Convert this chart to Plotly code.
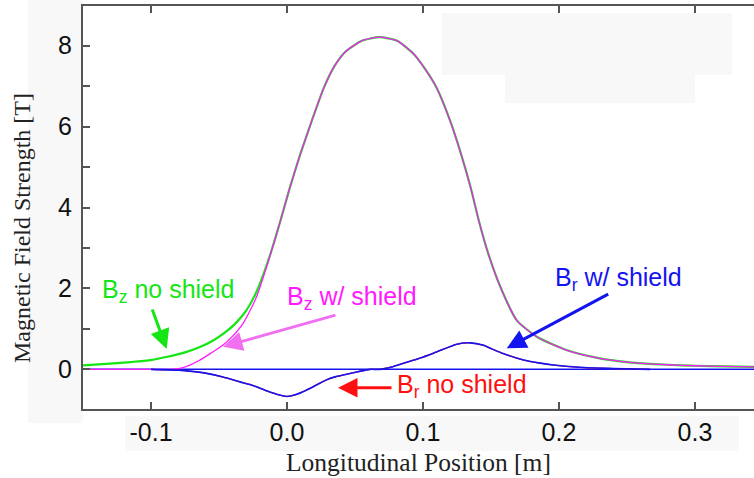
import plotly.graph_objects as go

# Longitudinal field B_z without shield
bz_free_x = [-0.150, -0.130, -0.115, -0.100, -0.088, -0.075, -0.064, -0.054, -0.046, -0.038,
             -0.030, -0.022, -0.0125, -0.005, 0.002, 0.0096, 0.018, 0.027, 0.035, 0.043,
             0.055, 0.068, 0.081, 0.093, 0.101, 0.110, 0.120, 0.128, 0.135, 0.141,
             0.148, 0.157, 0.169, 0.184, 0.206, 0.230, 0.250, 0.270, 0.290, 0.310, 0.3434]
bz_free_y = [0.10, 0.14, 0.18, 0.23, 0.31, 0.42, 0.55, 0.72, 0.90, 1.13,
             1.45, 1.95, 2.82, 3.65, 4.48, 5.30, 6.12, 6.95, 7.50, 7.85,
             8.12, 8.21, 8.12, 7.80, 7.45, 6.96, 6.14, 5.32, 4.50, 3.68,
             2.86, 2.03, 1.21, 0.80, 0.47, 0.27, 0.18, 0.13, 0.10, 0.08, 0.06]

# Longitudinal field B_z with shield
bz_shield_x = [-0.150, -0.120, -0.100, -0.085, -0.078, -0.071, -0.064, -0.056, -0.047, -0.040,
               -0.032, -0.0223, -0.0125, -0.005, 0.002, 0.0096, 0.018, 0.027, 0.035, 0.043,
               0.055, 0.068, 0.081, 0.093, 0.101, 0.110, 0.120, 0.128, 0.135, 0.141,
               0.148, 0.157, 0.169, 0.184, 0.206, 0.230, 0.250, 0.270, 0.290, 0.310, 0.3434]
bz_shield_y = [0.0, 0.0, 0.0, 0.0, 0.03, 0.11, 0.23, 0.40, 0.60, 0.82,
               1.15, 1.80, 2.80, 3.65, 4.48, 5.30, 6.12, 6.95, 7.50, 7.85,
               8.12, 8.21, 8.12, 7.80, 7.45, 6.96, 6.14, 5.32, 4.50, 3.68,
               2.86, 2.03, 1.21, 0.80, 0.47, 0.27, 0.18, 0.13, 0.10, 0.08, 0.06]

# Radial field B_r (both cases nearly coincide)
br_x = [-0.100, -0.080, -0.070, -0.059, -0.047, -0.0346, -0.025, -0.015, -0.006, 0.000,
        0.006, 0.0145, 0.022, 0.029, 0.036, 0.044, 0.052, 0.061, 0.068, 0.077,
        0.0856, 0.098, 0.110, 0.1248, 0.1346, 0.144, 0.151, 0.159, 0.174, 0.185,
        0.196, 0.215, 0.240, 0.267]
br_free_y = [0.0, -0.02, -0.05, -0.10, -0.19, -0.31, -0.40, -0.53, -0.63, -0.67,
             -0.63, -0.51, -0.38, -0.26, -0.18, -0.12, -0.06, 0.0, 0.0, 0.06,
             0.15, 0.28, 0.43, 0.62, 0.655, 0.60, 0.50, 0.39, 0.23, 0.16,
             0.106, 0.05, 0.02, 0.0]
br_shield_y = list(br_free_y)

x_tick_vals = [-0.1, 0.0, 0.1, 0.2, 0.3]
x_tick_text = ["-0.1", "0.0", "0.1", "0.2", "0.3"]
y_tick_vals = [0, 2, 4, 6, 8]
y_tick_text = ["0", "2", "4", "6", "8"]

GREEN = "#14e614"
MAGENTA = "#ff1aff"
BLUE = "#1414f0"
RED = "#ff1010"

W, H = 754, 478
ML, MR, MT, MB = 83, 0, 6, 69
PW, PH = W - ML - MR, H - MT - MB


def px(xp):
    return (xp - ML) / PW


def py(yp):
    return (H - MB - yp) / PH


fig = go.Figure()
fig.add_trace(go.Scatter(x=bz_free_x, y=bz_free_y, mode="lines",
                         line=dict(color=GREEN, width=2.2, shape="spline", smoothing=0.6),
                         name="Bz no shield"))
fig.add_trace(go.Scatter(x=bz_shield_x, y=bz_shield_y, mode="lines",
                         line=dict(color=MAGENTA, width=1.3, shape="spline", smoothing=0.6),
                         name="Bz w/ shield"))
fig.add_trace(go.Scatter(x=br_x, y=br_free_y, mode="lines",
                         line=dict(color=RED, width=1.3, shape="spline", smoothing=0.6),
                         name="Br no shield"))
fig.add_trace(go.Scatter(x=br_x, y=br_shield_y, mode="lines",
                         line=dict(color=BLUE, width=1.6, shape="spline", smoothing=0.6),
                         name="Br w/ shield"))

axis_col = "#555555"
tick_font = dict(family="Liberation Sans, Arial, sans-serif", size=25, color="#111111")

fig.update_xaxes(range=[-0.15, 0.3434], tickvals=x_tick_vals, ticktext=x_tick_text,
                 ticks="inside", ticklen=7, tickwidth=1.5, tickcolor=axis_col,
                 showline=True, linecolor=axis_col, linewidth=2, mirror="ticks",
                 showgrid=False, zeroline=False, tickfont=tick_font, ticklabelstandoff=0)
fig.update_yaxes(range=[-0.98, 8.98], tickvals=y_tick_vals, ticktext=y_tick_text,
                 ticks="inside", ticklen=7, tickwidth=1.5, tickcolor=axis_col,
                 minor=dict(tickvals=[-1, 1, 3, 5, 7], ticks="inside", ticklen=7,
                            tickwidth=1.5, tickcolor=axis_col, showgrid=False),
                 showline=True, linecolor=axis_col, linewidth=2, mirror=False,
                 showgrid=False, zeroline=False, tickfont=tick_font, ticklabelstandoff=4)

# faint panels behind the tick labels and in the upper right
panel = "#f8f8f8"
shapes = []
for x0, y0, x1, y1 in [(28, 0, 83, 423), (125, 416, 739, 451),
                       (442, 13, 732, 75), (505, 75, 695, 103)]:
    shapes.append(dict(type="rect", xref="paper", yref="paper",
                       x0=px(x0), x1=px(x1), y0=py(y1), y1=py(y0),
                       fillcolor=panel, line=dict(width=0), layer="below"))
# blue baseline at B = 0 across the full axis
shapes.append(dict(type="line", xref="paper", yref="y", x0=0, x1=1, y0=0, y1=0,
                   line=dict(color=BLUE, width=1.5), layer="below"))

ann_font = "Liberation Sans, Arial, sans-serif"
annotations = [
    dict(text="Longitudinal Position [m]", xref="paper", yref="paper",
         x=px(418), y=py(462), xanchor="center", yanchor="middle", showarrow=False,
         font=dict(family="Liberation Serif, Times New Roman, serif", size=25.5, color="#222222")),
    dict(text="Magnetic Field Strength [T]", xref="paper", yref="paper",
         x=px(22), y=py(228), xanchor="center", yanchor="middle", textangle=-90,
         showarrow=False,
         font=dict(family="Liberation Serif, Times New Roman, serif", size=24, color="#222222")),
    # labels
    dict(text="B<sub>z</sub> no shield", xref="paper", yref="paper",
         x=px(100), y=py(291), xanchor="left", yanchor="middle", showarrow=False,
         font=dict(family=ann_font, size=25, color=GREEN)),
    dict(text="B<sub>z</sub> w/ shield", xref="paper", yref="paper",
         x=px(285), y=py(298), xanchor="left", yanchor="middle", showarrow=False,
         font=dict(family=ann_font, size=25, color=MAGENTA)),
    dict(text="B<sub>r</sub> w/ shield", xref="paper", yref="paper",
         x=px(553), y=py(279), xanchor="left", yanchor="middle", showarrow=False,
         font=dict(family=ann_font, size=25, color=BLUE)),
    dict(text="B<sub>r</sub> no shield", xref="paper", yref="paper",
         x=px(395), y=py(386), xanchor="left", yanchor="middle", showarrow=False,
         font=dict(family=ann_font, size=25, color=RED)),
    # arrows
    dict(text="", xref="paper", yref="paper", x=px(166.7), y=py(349), ax=-15, ay=-41,
         showarrow=True, arrowhead=2, arrowsize=1.3, arrowwidth=3, arrowcolor=GREEN),
    dict(text="", xref="paper", yref="paper", x=px(223), y=py(346.7), ax=114, ay=-32,
         showarrow=True, arrowhead=2, arrowsize=1.3, arrowwidth=3, arrowcolor="#f070f0"),
    dict(text="", xref="paper", yref="paper", x=px(506.7), y=py(348.3), ax=103, ay=-55,
         showarrow=True, arrowhead=2, arrowsize=1.3, arrowwidth=3, arrowcolor=BLUE),
    dict(text="", xref="paper", yref="paper", x=px(338), y=py(387.7), ax=55, ay=0,
         showarrow=True, arrowhead=2, arrowsize=1.3, arrowwidth=3, arrowcolor=RED),
]

fig.update_layout(width=W, height=H, margin=dict(l=ML, r=MR, t=MT, b=MB, pad=0),
                  paper_bgcolor="white", plot_bgcolor="rgba(0,0,0,0)",
                  showlegend=False, shapes=shapes, annotations=annotations)

fig.write_html("out.html")
